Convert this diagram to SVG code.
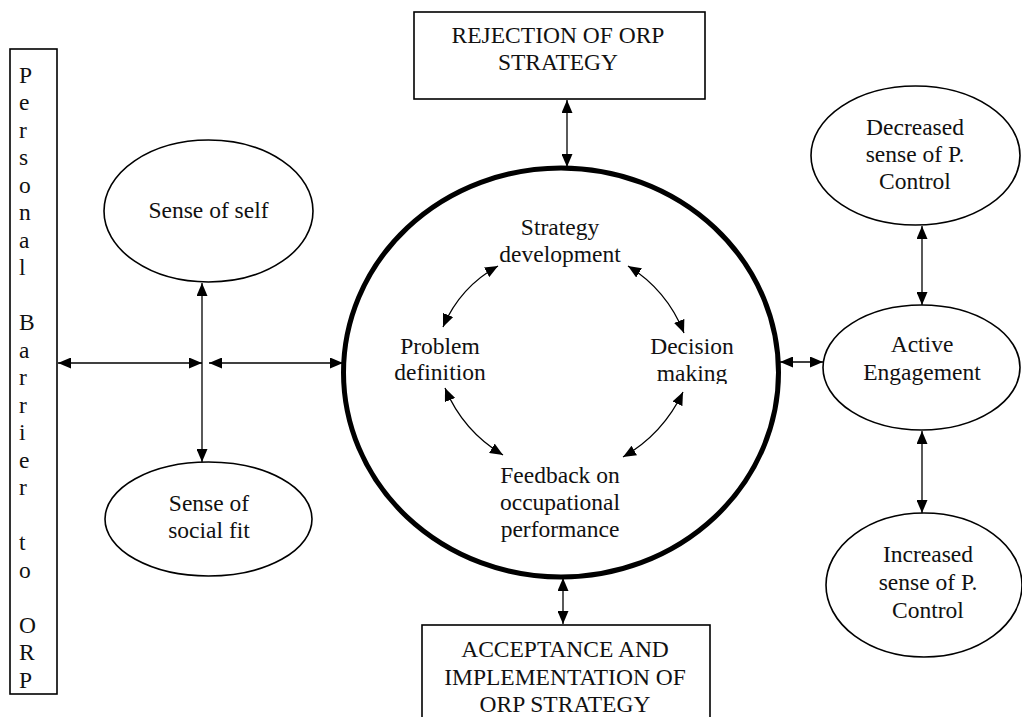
<svg xmlns="http://www.w3.org/2000/svg" width="1022" height="717" viewBox="0 0 1022 717">
  <style>
    text { font-family: "Liberation Serif", "Times New Roman", serif; font-size: 23.5px; fill: #111; }
    .mid { text-anchor: middle; }
    .shape { fill: #fff; stroke: #000; stroke-width: 1.6; }
    .hub { fill: #fff; stroke: #000; stroke-width: 5; }
    .link { fill: none; stroke: #000; stroke-width: 1.3; marker-start: url(#ah); marker-end: url(#ah); }
  </style>
  <defs>
    <marker id="ah" markerUnits="userSpaceOnUse" markerWidth="13" markerHeight="11" viewBox="0 0 13 11" refX="13" refY="5.5" orient="auto-start-reverse">
      <path d="M0,0 L13,5.5 L0,11 z" fill="#000"/>
    </marker>
    <clipPath id="dm-clip">
      <rect x="600" y="330" width="180" height="54"/>
    </clipPath>
  </defs>
  <rect width="1022" height="717" fill="#fff"/>

  <!-- central cycle -->
  <g id="hub">
    <ellipse class="hub" cx="561" cy="372.5" rx="217.5" ry="204.5"/>
  </g>
  <g id="strategy-development">
    <text class="mid" x="560" y="235">Strategy</text>
    <text class="mid" x="560" y="262">development</text>
  </g>
  <g id="problem-definition">
    <text class="mid" x="440" y="354">Problem</text>
    <text class="mid" x="440" y="380">definition</text>
  </g>
  <g id="decision-making" clip-path="url(#dm-clip)">
    <text class="mid" x="692" y="354">Decision</text>
    <text class="mid" x="692" y="381">making</text>
  </g>
  <g id="feedback">
    <text class="mid" x="560" y="483">Feedback on</text>
    <text class="mid" x="560" y="510">occupational</text>
    <text class="mid" x="560" y="537">performance</text>
  </g>

  <!-- outcome boxes -->
  <g id="rejection">
    <rect class="shape" x="414" y="12" width="291" height="87"/>
    <text class="mid" x="558" y="43">REJECTION OF ORP</text>
    <text class="mid" x="558" y="70">STRATEGY</text>
  </g>
  <g id="acceptance">
    <rect class="shape" x="422" y="625" width="288" height="100"/>
    <text class="mid" x="565" y="657">ACCEPTANCE AND</text>
    <text class="mid" x="565" y="684.5">IMPLEMENTATION OF</text>
    <text class="mid" x="565" y="712">ORP STRATEGY</text>
  </g>

  <!-- personal barrier column -->
  <g id="personal-barrier">
    <rect class="shape" x="10" y="49" width="47" height="645"/>
    <text x="19" y="82.5">P</text>
    <text x="19" y="110">e</text>
    <text x="19" y="137.5">r</text>
    <text x="19" y="165">s</text>
    <text x="19" y="192.5">o</text>
    <text x="19" y="220">n</text>
    <text x="19" y="247.5">a</text>
    <text x="19" y="275">l</text>
    <text x="19" y="330">B</text>
    <text x="19" y="357.5">a</text>
    <text x="19" y="385">r</text>
    <text x="19" y="412.5">r</text>
    <text x="19" y="440">i</text>
    <text x="19" y="467.5">e</text>
    <text x="19" y="495">r</text>
    <text x="19" y="550">t</text>
    <text x="19" y="577.5">o</text>
    <text x="19" y="632.5">O</text>
    <text x="19" y="660">R</text>
    <text x="19" y="687.5">P</text>
  </g>

  <!-- left ellipses -->
  <g id="sense-of-self">
    <ellipse class="shape" cx="208.5" cy="211" rx="104.5" ry="71"/>
    <text class="mid" x="208.5" y="218">Sense of self</text>
  </g>
  <g id="social-fit">
    <ellipse class="shape" cx="208.5" cy="519" rx="103.5" ry="57"/>
    <text class="mid" x="209" y="511">Sense of</text>
    <text class="mid" x="209" y="538">social fit</text>
  </g>

  <!-- right ellipses -->
  <g id="decreased-control">
    <ellipse class="shape" cx="915.5" cy="155.5" rx="104.5" ry="69.5"/>
    <text class="mid" x="915" y="135">Decreased</text>
    <text class="mid" x="915" y="162">sense of P.</text>
    <text class="mid" x="915" y="188.5">Control</text>
  </g>
  <g id="active-engagement">
    <ellipse class="shape" cx="921.5" cy="367.5" rx="98.5" ry="62.5"/>
    <text class="mid" x="922" y="352">Active</text>
    <text class="mid" x="922" y="380">Engagement</text>
  </g>
  <g id="increased-control">
    <ellipse class="shape" cx="924" cy="585" rx="98" ry="72"/>
    <text class="mid" x="928" y="562">Increased</text>
    <text class="mid" x="928" y="590">sense of P.</text>
    <text class="mid" x="928" y="617.5">Control</text>
  </g>

  <!-- connectors -->
  <g id="connectors">
    <line class="link" x1="567" y1="100" x2="567" y2="167"/>
    <line class="link" x1="563" y1="578" x2="563" y2="624"/>
    <line class="link" x1="58" y1="363" x2="202" y2="363"/>
    <line class="link" x1="209" y1="363" x2="343" y2="363"/>
    <line class="link" x1="202" y1="283" x2="202" y2="462"/>
    <line class="link" x1="780" y1="362" x2="823" y2="362"/>
    <line class="link" x1="922" y1="226" x2="922" y2="305"/>
    <line class="link" x1="922" y1="431" x2="922" y2="513"/>
    <path class="link" d="M443,327 Q460,287 498,266"/>
    <path class="link" d="M628,266 Q667,290 684,333"/>
    <path class="link" d="M445,388 Q463,431 503,455"/>
    <path class="link" d="M683,392 Q663,434 623,457"/>
  </g>
</svg>
